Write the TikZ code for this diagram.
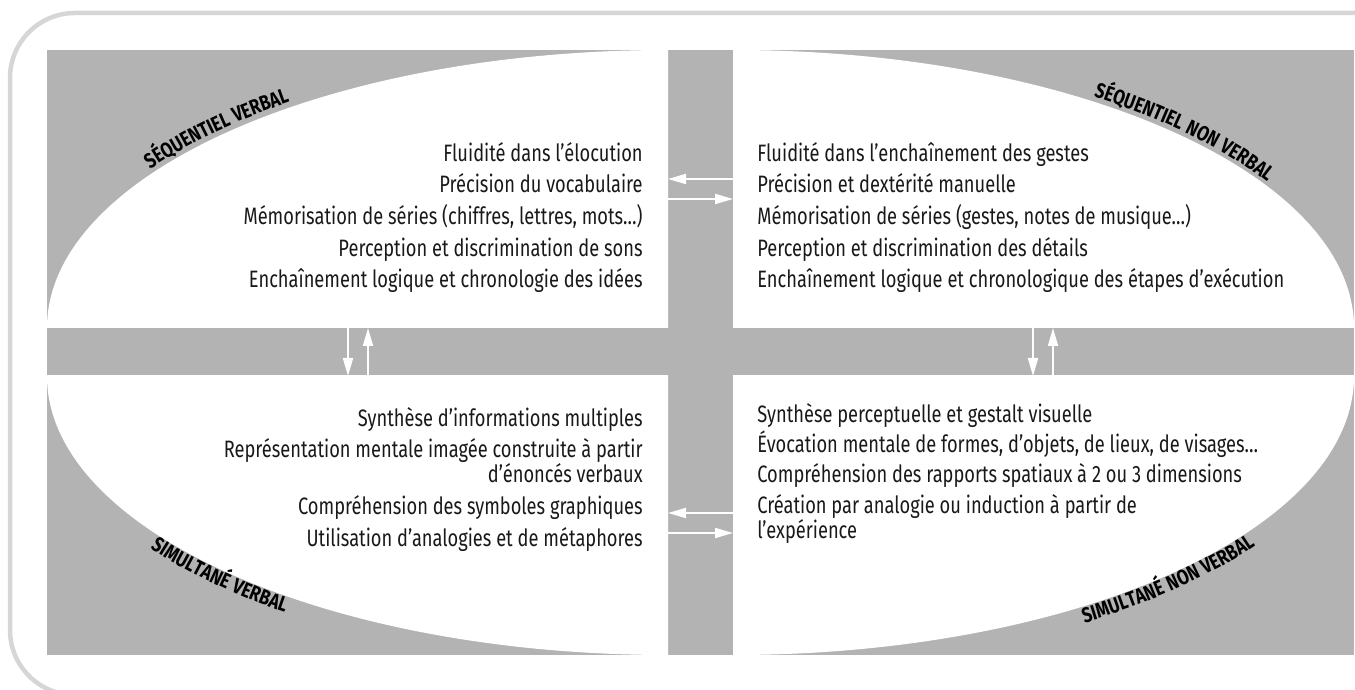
\documentclass[tikz,border=0pt]{standalone}
\usepackage{fontspec}
\setmainfont{Fira Sans}[FakeStretch=0.77]
\newfontfamily\quadfamily{Fira Sans}[FakeStretch=0.8, LetterSpace=4]
\usetikzlibrary{arrows.meta,decorations.text}
\definecolor{bargray}{HTML}{B3B3B3}
\definecolor{framegray}{HTML}{D6D6D6}
\newcommand\quadfont{\quadfamily\fontsize{12}{14}\selectfont\bfseries}
\begin{document}
\begin{tikzpicture}[x=0.2mm, y=-0.2mm,
		item/.style={inner sep=0pt, text=black!90, font=\fontsize{13.5}{14.3}\selectfont},
		flow/.style={white, line width=0.4mm, -{Triangle[length=3.6mm, width=2mm]}},
		arclabel/.style={decorate, decoration={text along path, text align=center, text={#1}}}]
			\useasboundingbox (0,0) rectangle (1355,690);
			\clip (0,0) rectangle (1355,690);
			% frame
			\draw[framegray, line width=0.9mm, rounded corners=13mm] (1400,13) -- (10,13) -- (10,695) -- (1400,695);
			% grey ground and cross
			\fill[bargray] (47,50) rectangle (1354,655);
			\begin{scope}
				\clip (47,50) rectangle (668,328);
				\fill[white] (668,328) ellipse [x radius=124.2mm, y radius=55.6mm];
			\end{scope}
			\begin{scope}
				\clip (733,50) rectangle (1354,328);
				\fill[white] (733,328) ellipse [x radius=124.2mm, y radius=55.6mm];
			\end{scope}
			\begin{scope}
				\clip (47,376) rectangle (668,655);
				\fill[white] (668,376) ellipse [x radius=124.2mm, y radius=55.8mm];
			\end{scope}
			\begin{scope}
				\clip (733,376) rectangle (1354,655);
				\fill[white] (733,376) ellipse [x radius=124.2mm, y radius=55.8mm];
			\end{scope}
			% quadrant titles
			\path[arclabel={|\quadfont|SÉQUENTIEL VERBAL}] plot[domain=-156:-120, samples=30] ({668+625*cos(\x)},{328+284*sin(\x)});
			\path[arclabel={|\quadfont|SÉQUENTIEL NON VERBAL}] plot[domain=-62:-20, samples=30] ({733+623*cos(\x)},{328+284*sin(\x)});
			\path[arclabel={|\quadfont|SIMULTANÉ VERBAL}] plot[domain=25:61, samples=30] ({668+638*cos(180-\x)},{376+296*sin(180-\x)});
			\path[arclabel={|\quadfont|SIMULTANÉ NON VERBAL}] plot[domain=0:42, samples=30] ({733+638*cos(65-\x)},{376+296*sin(65-\x)});
			% sequential verbal
			\node[item, anchor=base east] (sv1) at (643,162) {Fluidité dans l’élocution};
			\node[item, anchor=base east] (sv2) at (643,193) {Précision du vocabulaire};
			\node[item, anchor=base east] (sv3) at (643,225) {Mémorisation de séries (chiffres, lettres, mots…)};
			\node[item, anchor=base east] (sv4) at (643,257) {Perception et discrimination de sons};
			\node[item, anchor=base east] (sv5) at (643,288) {Enchaînement logique et chronologie des idées};
			% sequential non verbal
			\node[item, anchor=base west] (sn1) at (757,162) {Fluidité dans l’enchaînement des gestes};
			\node[item, anchor=base west] (sn2) at (757,193) {Précision et dextérité manuelle};
			\node[item, anchor=base west] (sn3) at (757,225) {Mémorisation de séries (gestes, notes de musique…)};
			\node[item, anchor=base west] (sn4) at (757,257) {Perception et discrimination des détails};
			\node[item, anchor=base west] (sn5) at (757,288) {Enchaînement logique et chronologique des étapes d’exécution};
			% simultaneous verbal
			\node[item, anchor=base east] (mv1) at (643,427) {Synthèse d’informations multiples};
			\node[item, anchor=base east, align=right] (mv2) at (643,483) {Représentation mentale imagée construite à partir\\d’énoncés verbaux};
			\node[item, anchor=base east] (mv3) at (643,515) {Compréhension des symboles graphiques};
			\node[item, anchor=base east] (mv4) at (643,547) {Utilisation d’analogies et de métaphores};
			% simultaneous non verbal
			\node[item, anchor=base west] (mn1) at (757,423) {Synthèse perceptuelle et gestalt visuelle};
			\node[item, anchor=base west] (mn2) at (757,453) {Évocation mentale de formes, d’objets, de lieux, de visages…};
			\node[item, anchor=base west] (mn3) at (757,483) {Compréhension des rapports spatiaux à 2 ou 3 dimensions};
			\node[item, anchor=base west, align=left] (mn4) at (757,539) {Création par analogie ou induction à partir de\\l’expérience};
			% exchange arrows
			\coordinate (ua1) at (733,179); \coordinate (ua2) at (668,179);
			\coordinate (ub1) at (668,199); \coordinate (ub2) at (733,199);
			\coordinate (da1) at (733,513); \coordinate (da2) at (668,513);
			\coordinate (db1) at (668,533); \coordinate (db2) at (733,533);
			\coordinate (la1) at (348,328); \coordinate (la2) at (348,376);
			\coordinate (lb1) at (368,376); \coordinate (lb2) at (368,328);
			\coordinate (ra1) at (1033,328); \coordinate (ra2) at (1033,376);
			\coordinate (rb1) at (1053,376); \coordinate (rb2) at (1053,328);
			\draw[flow] (ua1) -- (ua2);
			\draw[flow] (ub1) -- (ub2);
			\draw[flow] (da1) -- (da2);
			\draw[flow] (db1) -- (db2);
			\draw[flow] (la1) -- (la2);
			\draw[flow] (lb1) -- (lb2);
			\draw[flow] (ra1) -- (ra2);
			\draw[flow] (rb1) -- (rb2);
		\end{tikzpicture}
\end{document}
